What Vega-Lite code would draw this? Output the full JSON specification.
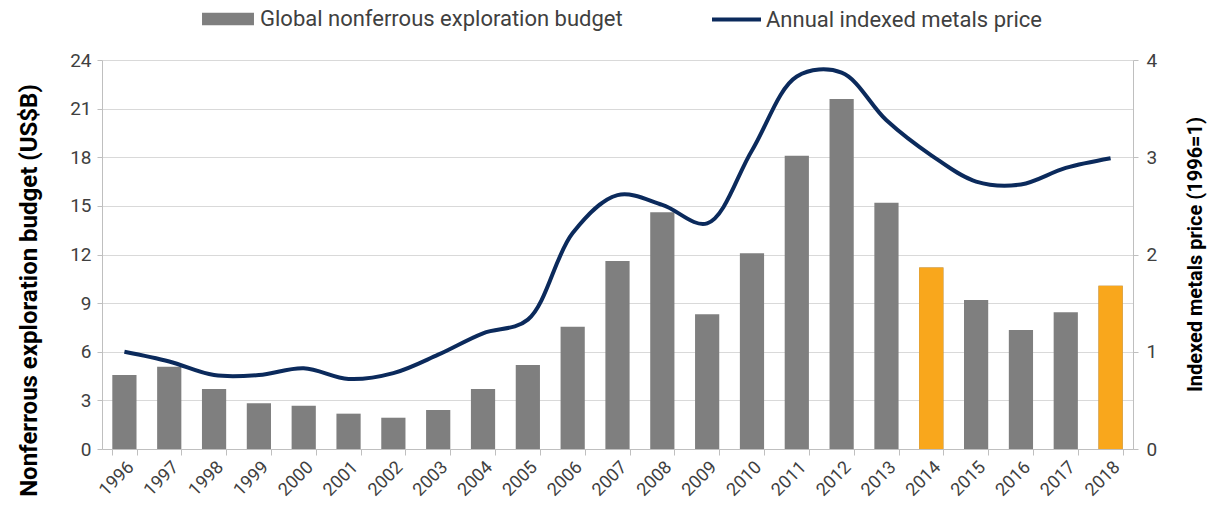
{
  "$schema": "https://vega.github.io/schema/vega-lite/v6.json",
  "width": 1031,
  "height": 389,
  "autosize": {"type": "none"},
  "padding": {"left": 102, "top": 60, "right": 81, "bottom": 57},
  "background": "white",
  "config": {
    "font": "Roboto",
    "view": {"stroke": null},
    "axis": {"labelFont": "Roboto", "titleFont": "Roboto", "labelColor": "#404040", "titleColor": "#000000", "domainColor": "#bfbfbf", "tickColor": "#bfbfbf", "gridColor": "#d9d9d9"},
    "legend": {"labelFont": "Roboto", "labelColor": "#404040", "labelLimit": 600}
  },
  "data": {
    "values": [
      {"year": "1996", "budget": 4.57, "price": 1.00, "highlight": false},
      {"year": "1997", "budget": 5.08, "price": 0.90, "highlight": false},
      {"year": "1998", "budget": 3.70, "price": 0.76, "highlight": false},
      {"year": "1999", "budget": 2.83, "price": 0.76, "highlight": false},
      {"year": "2000", "budget": 2.67, "price": 0.83, "highlight": false},
      {"year": "2001", "budget": 2.18, "price": 0.72, "highlight": false},
      {"year": "2002", "budget": 1.93, "price": 0.78, "highlight": false},
      {"year": "2003", "budget": 2.41, "price": 0.97, "highlight": false},
      {"year": "2004", "budget": 3.70, "price": 1.19, "highlight": false},
      {"year": "2005", "budget": 5.18, "price": 1.33, "highlight": false},
      {"year": "2006", "budget": 7.55, "price": 2.22, "highlight": false},
      {"year": "2007", "budget": 11.6, "price": 2.61, "highlight": false},
      {"year": "2008", "budget": 14.6, "price": 2.51, "highlight": false},
      {"year": "2009", "budget": 8.31, "price": 2.32, "highlight": false},
      {"year": "2010", "budget": 12.07, "price": 3.07, "highlight": false},
      {"year": "2011", "budget": 18.1, "price": 3.83, "highlight": false},
      {"year": "2012", "budget": 21.6, "price": 3.87, "highlight": false},
      {"year": "2013", "budget": 15.2, "price": 3.38, "highlight": false},
      {"year": "2014", "budget": 11.2, "price": 3.02, "highlight": true},
      {"year": "2015", "budget": 9.2, "price": 2.75, "highlight": false},
      {"year": "2016", "budget": 7.34, "price": 2.72, "highlight": false},
      {"year": "2017", "budget": 8.43, "price": 2.89, "highlight": false},
      {"year": "2018", "budget": 10.07, "price": 2.99, "highlight": true}
    ]
  },
  "encoding": {
    "x": {
      "field": "year",
      "type": "ordinal",
      "scale": {"paddingInner": 0.46, "paddingOuter": 0.23},
      "axis": {
        "title": null,
        "labelAngle": -45,
        "labelFontSize": 18,
        "labelPadding": 3,
        "tickBand": "extent",
        "tickSize": 6,
        "grid": false,
        "domainColor": "#bfbfbf"
      }
    }
  },
  "layer": [
    {
      "layer": [
        {
          "mark": {"type": "bar"},
          "encoding": {
            "y": {
              "field": "budget",
              "type": "quantitative",
              "scale": {"domain": [0, 24]},
              "axis": {
                "title": "Nonferrous exploration budget (US$B)",
                "titleFontSize": 24,
                "titleFontWeight": "bold",
                "titleAngle": 270,
                "titleBaseline": "middle",
                "titleAlign": "center",
                "titleX": -73,
                "titleY": 230,
                "values": [0, 3, 6, 9, 12, 15, 18, 21, 24],
                "labelFontSize": 19,
                "labelPadding": 6,
                "tickSize": 5,
                "grid": true,
                "domain": true
              }
            },
            "fill": {
              "datum": "Global nonferrous exploration budget",
              "type": "nominal",
              "scale": {"range": ["#7f7f7f"]},
              "legend": {
                "title": null,
                "orient": "none",
                "legendX": 100,
                "legendY": -67,
                "symbolType": "M-1,-0.24H1V0.24H-1Z",
                "symbolSize": 2700,
                "symbolStrokeWidth": 0,
                "labelFontSize": 22,
                "labelOffset": 6
              }
            }
          }
        },
        {
          "transform": [{"filter": "datum.highlight"}],
          "mark": {"type": "bar", "color": "#f9a71c"},
          "encoding": {
            "y": {"field": "budget", "type": "quantitative"}
          }
        }
      ]
    },
    {
      "mark": {"type": "line", "interpolate": "catmull-rom", "strokeWidth": 4},
      "encoding": {
        "y": {
          "field": "price",
          "type": "quantitative",
          "scale": {"domain": [0, 4]},
          "axis": {
            "orient": "right",
            "title": "Indexed metals price (1996=1)",
            "titleFontSize": 20,
            "titleFontWeight": "bold",
            "titleAngle": 270,
            "titleBaseline": "middle",
            "titleAlign": "center",
            "titleX": 62,
            "titleY": 194,
            "values": [0, 1, 2, 3, 4],
            "labelFontSize": 19,
            "labelPadding": 8,
            "tickSize": 5,
            "grid": false,
            "domain": true
          }
        },
        "stroke": {
          "datum": "Annual indexed metals price",
          "type": "nominal",
          "scale": {"range": ["#0b2a5c"]},
          "legend": {
            "title": null,
            "orient": "none",
            "legendX": 608,
            "legendY": -67,
            "symbolType": "stroke",
            "symbolSize": 2400,
            "symbolStrokeWidth": 4,
            "labelFontSize": 22,
            "labelOffset": 3
          }
        }
      }
    }
  ],
  "resolve": {"scale": {"y": "independent", "fill": "independent", "stroke": "independent"}}
}
